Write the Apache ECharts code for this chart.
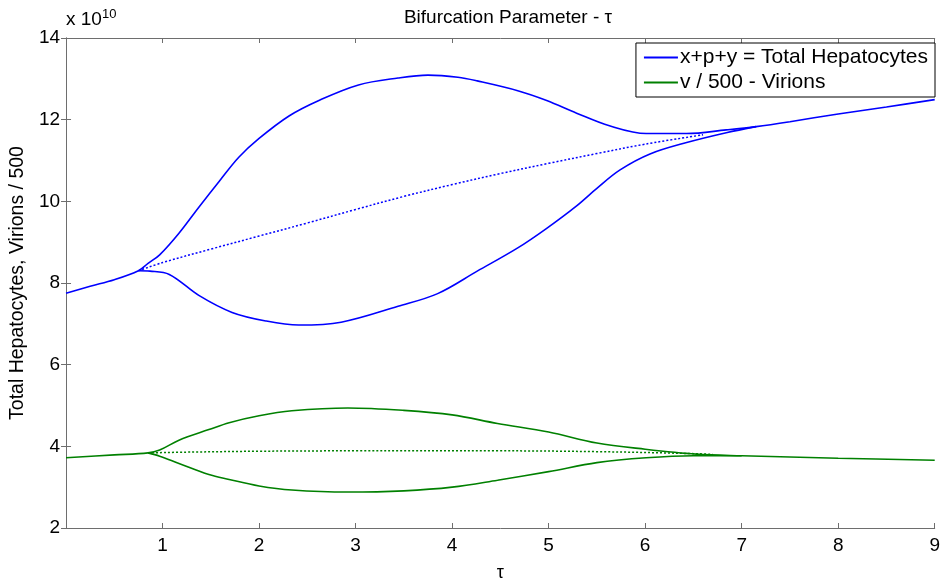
<!DOCTYPE html>
<html>
<head>
<meta charset="utf-8">
<title>Bifurcation Parameter - τ</title>
<script src="https://cdn.jsdelivr.net/npm/echarts@6/dist/echarts.min.js"></script>
<style>
  html, body { margin: 0; padding: 0; background: #fff; }
  #chart { width: 943px; height: 587px; }
</style>
</head>
<body>
<div id="chart"></div>
<script>
// values are in units of 1e10 (see the "x 10^10" note on the axis)

// total hepatocytes, upper branch (incl. the shared part before/after the loop)
const hepUpperTau = [0, 0.25, 0.5, 0.75, 0.85, 0.97, 1.17, 1.38, 1.59, 1.79, 2.0, 2.31, 2.62, 3.03, 3.44, 3.75, 4.06, 4.26, 4.68, 4.98, 5.29, 5.63, 6.01, 6.43, 6.84, 7.15, 7.5, 8, 8.5, 9];
const hepUpper = [7.75, 7.92, 8.08, 8.3, 8.48, 8.69, 9.22, 9.87, 10.5, 11.08, 11.54, 12.09, 12.47, 12.85, 13.02, 13.09, 13.04, 12.95, 12.71, 12.47, 12.16, 11.85, 11.66, 11.66, 11.75, 11.83, 11.95, 12.14, 12.31, 12.49];
// lower branch
const hepLowerTau = [0.75, 0.87, 1.07, 1.38, 1.72, 2.07, 2.41, 2.85, 3.44, 3.85, 4.26, 4.68, 4.98, 5.29, 5.5, 5.74, 6.05, 6.43, 6.84, 7.15];
const hepLower = [8.3, 8.29, 8.21, 7.69, 7.28, 7.07, 6.97, 7.04, 7.43, 7.74, 8.29, 8.86, 9.34, 9.89, 10.32, 10.77, 11.16, 11.44, 11.68, 11.83];
// unstable middle branch (dotted)
const hepMidTau = [0.75, 1, 1.5, 2, 2.5, 3, 3.5, 4, 4.5, 5, 5.5, 6, 6.6];
const hepMid = [8.3, 8.5, 8.83, 9.15, 9.47, 9.8, 10.12, 10.41, 10.68, 10.93, 11.17, 11.4, 11.63];

// virions / 500, upper branch
const virUpperTau = [0, 0.5, 0.85, 0.97, 1.17, 1.48, 1.69, 2.0, 2.34, 2.92, 3.5, 4.0, 4.47, 5.0, 5.5, 6.0, 6.53, 7.0, 8.0, 9.0];
const virUpper = [3.72, 3.79, 3.84, 3.91, 4.15, 4.41, 4.58, 4.75, 4.87, 4.94, 4.88, 4.77, 4.56, 4.35, 4.08, 3.93, 3.81, 3.77, 3.71, 3.66];
// lower branch
const virLowerTau = [0.85, 0.97, 1.17, 1.48, 1.69, 2.0, 2.34, 2.92, 3.5, 4.0, 4.47, 5.0, 5.5, 6.01, 6.5, 7.0];
const virLower = [3.84, 3.76, 3.58, 3.31, 3.19, 3.03, 2.93, 2.88, 2.91, 3.0, 3.17, 3.38, 3.6, 3.72, 3.77, 3.77];
// middle branch (dotted)
const virMidTau = [0.85, 1.31, 2, 3, 4.47, 5.5, 6.53, 6.7];
const virMid = [3.84, 3.86, 3.88, 3.89, 3.89, 3.87, 3.82, 3.8];

const hepName = "x+p+y = Total Hepatocytes";
const virName = "v / 500 - Virions";
const blue = "#0000ff";
const green = "#008000";
const font = "'Liberation Sans', Arial, sans-serif";

// pair up tau and value arrays
const pts = (xs, ys) => xs.map((x, i) => [x, ys[i]]);

function lineSeries(name, color, data, dotted) {
  return {
    name: name,
    type: "line",
    data: data,
    symbol: "none",
    smooth: 0.35,
    silent: true,
    lineStyle: {
      color: color,
      width: dotted ? 1.5 : 1.6,
      type: dotted ? [2, 2] : "solid",
    },
    itemStyle: { color: color },
  };
}

const axisLine = { lineStyle: { color: "#6e6e6e", width: 1 } };
const tick = { inside: true, length: 5, lineStyle: { color: "#6e6e6e" } };

const chart = echarts.init(document.getElementById("chart"));
chart.setOption({
  animation: false,
  textStyle: { fontFamily: font },
  title: {
    text: "Bifurcation Parameter - τ",
    left: 503,
    textAlign: "center",
    top: 3,
    textStyle: { fontSize: 19, fontWeight: "normal", color: "#000", fontFamily: font },
  },
  grid: { left: 66, right: 3, top: 38, bottom: 47 },
  legend: {
    data: [hepName, virName],
    orient: "vertical",
    right: 8,
    top: 43,
    padding: [4, 7, 4, 7],
    itemGap: 4,
    itemWidth: 34,
    itemHeight: 16,
    borderColor: "#000",
    borderWidth: 1,
    backgroundColor: "#fff",
    selectedMode: false,
    itemStyle: { opacity: 0 },
    textStyle: { fontSize: 21, color: "#000", fontFamily: font, padding: [0, 0, 0, -3] },
  },
  graphic: [
    {
      type: "text",
      left: 66,
      top: 8,
      style: {
        text: "x 10{sup|10}",
        fontSize: 19,
        fontFamily: font,
        fill: "#000",
        rich: { sup: { fontSize: 13, verticalAlign: "top", padding: [0, 0, 10, 0] } },
      },
    },
  ],
  xAxis: [
    {
      type: "value",
      min: 0,
      max: 9,
      interval: 1,
      name: "τ",
      nameLocation: "middle",
      nameGap: 36,
      nameTextStyle: { fontSize: 18, color: "#000" },
      axisLine: axisLine,
      axisTick: tick,
      splitLine: { show: false },
      axisLabel: {
        fontSize: 19,
        color: "#000",
        margin: 8,
        formatter: (v) => (v === 0 ? "" : v),
      },
    },
    {
      type: "value",
      position: "top",
      min: 0,
      max: 9,
      interval: 1,
      axisLine: axisLine,
      axisTick: tick,
      axisLabel: { show: false },
      splitLine: { show: false },
    },
  ],
  yAxis: [
    {
      type: "value",
      min: 2,
      max: 14,
      interval: 2,
      name: "Total Hepatocytes, Virions / 500",
      nameLocation: "middle",
      nameGap: 38,
      nameTextStyle: { fontSize: 19.5, color: "#000" },
      axisLine: { show: true, lineStyle: axisLine.lineStyle },
      axisTick: tick,
      splitLine: { show: false },
      axisLabel: { fontSize: 19, color: "#000", margin: 6 },
    },
    {
      type: "value",
      position: "right",
      min: 2,
      max: 14,
      interval: 2,
      axisLine: { show: true, lineStyle: axisLine.lineStyle },
      axisTick: tick,
      axisLabel: { show: false },
      splitLine: { show: false },
    },
  ],
  series: [
    lineSeries(hepName, blue, pts(hepUpperTau, hepUpper), false),
    lineSeries(hepName, blue, pts(hepLowerTau, hepLower), false),
    lineSeries(hepName, blue, pts(hepMidTau, hepMid), true),
    lineSeries(virName, green, pts(virUpperTau, virUpper), false),
    lineSeries(virName, green, pts(virLowerTau, virLower), false),
    lineSeries(virName, green, pts(virMidTau, virMid), true),
  ],
});
</script>
</body>
</html>
